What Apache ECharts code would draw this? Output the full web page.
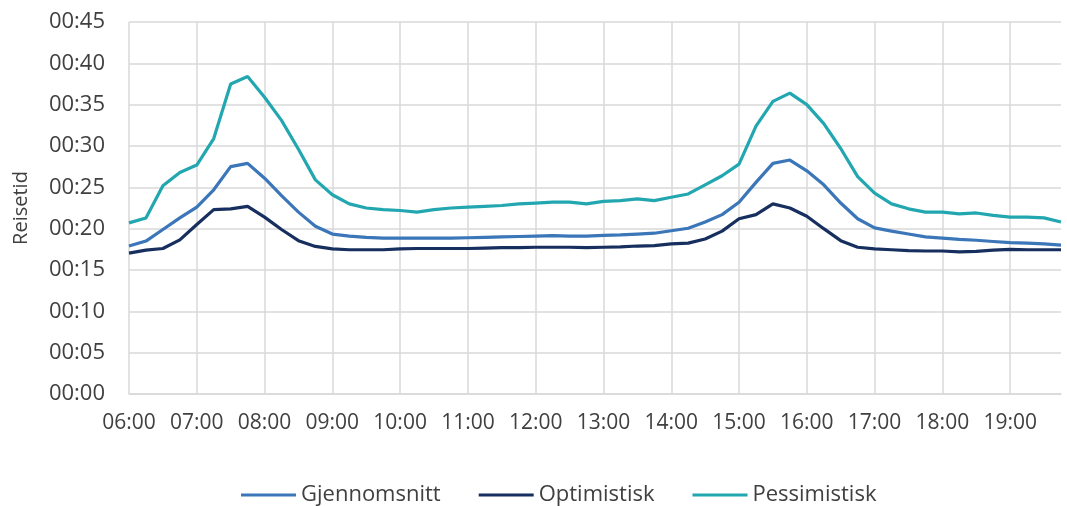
<!DOCTYPE html>
<html>
<head>
<meta charset="utf-8">
<script src="https://cdn.jsdelivr.net/npm/echarts@6/dist/echarts.min.js"></script>
<style>
  html, body { margin: 0; padding: 0; background: #ffffff; }
  #chart { width: 1067px; height: 506px; }
</style>
</head>
<body>
<div id="chart"></div>
<script>
// Travel time (minutes) per 15-minute departure slot, 06:00–19:45
const times = [
  '06:00','06:15','06:30','06:45','07:00','07:15','07:30','07:45',
  '08:00','08:15','08:30','08:45','09:00','09:15','09:30','09:45',
  '10:00','10:15','10:30','10:45','11:00','11:15','11:30','11:45',
  '12:00','12:15','12:30','12:45','13:00','13:15','13:30','13:45',
  '14:00','14:15','14:30','14:45','15:00','15:15','15:30','15:45',
  '16:00','16:15','16:30','16:45','17:00','17:15','17:30','17:45',
  '18:00','18:15','18:30','18:45','19:00','19:15','19:30','19:45'
];

const gjennomsnitt = [
  17.9, 18.5, 19.9, 21.3, 22.6, 24.7, 27.5, 27.9,
  26.1, 24.0, 22.0, 20.3, 19.35, 19.1, 18.95, 18.85,
  18.85, 18.85, 18.85, 18.85, 18.9, 18.95, 19.0, 19.05,
  19.1, 19.15, 19.1, 19.1, 19.2, 19.25, 19.35, 19.45,
  19.75, 20.05, 20.8, 21.7, 23.2, 25.6, 27.9, 28.3,
  27.0, 25.3, 23.1, 21.2, 20.1, 19.7, 19.35, 19.0,
  18.85, 18.7, 18.6, 18.45, 18.3, 18.25, 18.15, 18.0
];

const optimistisk = [
  17.05, 17.4, 17.6, 18.65, 20.5, 22.3, 22.4, 22.7,
  21.4, 19.9, 18.55, 17.85, 17.55, 17.45, 17.45, 17.45,
  17.55, 17.6, 17.6, 17.6, 17.6, 17.65, 17.7, 17.7,
  17.75, 17.75, 17.75, 17.7, 17.75, 17.8, 17.9, 17.95,
  18.15, 18.25, 18.75, 19.7, 21.2, 21.7, 23.0, 22.5,
  21.5, 20.0, 18.55, 17.75, 17.55, 17.45, 17.35, 17.3,
  17.3, 17.2, 17.25, 17.4, 17.5, 17.45, 17.45, 17.45
];

const pessimistisk = [
  20.7, 21.3, 25.2, 26.8, 27.7, 30.9, 37.5, 38.4,
  35.9, 33.1, 29.6, 25.9, 24.1, 23.0, 22.5, 22.3,
  22.2, 22.0, 22.3, 22.5, 22.6, 22.7, 22.8, 23.0,
  23.1, 23.2, 23.2, 23.0, 23.3, 23.4, 23.6, 23.4,
  23.8, 24.2, 25.3, 26.4, 27.8, 32.4, 35.4, 36.4,
  35.0, 32.7, 29.7, 26.3, 24.3, 23.0, 22.4, 22.0,
  22.0, 21.8, 21.9, 21.6, 21.4, 21.4, 21.3, 20.8
];

const seriesNames = ['Gjennomsnitt', 'Optimistisk', 'Pessimistisk'];
const seriesColors = ['#3a76b8', '#172f5e', '#22a7b0'];

const textColor = '#404040';
const gridColor = '#d9d9d9';
const fontFamily = '"Open Sans", "Noto Sans", sans-serif';

function pad2(n) { return (n < 10 ? '0' : '') + n; }

const chart = echarts.init(document.getElementById('chart'), null, { renderer: 'canvas' });

const seriesData = [gjennomsnitt, optimistisk, pessimistisk];

chart.setOption({
  animation: false,
  backgroundColor: '#ffffff',
  textStyle: { fontFamily: fontFamily },
  grid: { left: 129, right: 6, top: 22, bottom: 112 },
  legend: {
    data: seriesNames,
    bottom: 0,
    padding: 0,
    left: 241,
    icon: 'rect',
    itemWidth: 55,
    itemHeight: 3,
    itemGap: 38,
    textStyle: { color: textColor, fontSize: 22, fontFamily: fontFamily }
  },
  xAxis: {
    type: 'category',
    data: times,
    boundaryGap: false,
    axisLine: { show: true, lineStyle: { color: gridColor, width: 1.5 } },
    axisTick: { show: false },
    axisLabel: {
      interval: 3,
      color: textColor,
      fontSize: 21,
      margin: 19,
      fontFamily: fontFamily
    },
    splitLine: {
      show: true,
      interval: 3,
      lineStyle: { color: gridColor, width: 1.5 }
    }
  },
  yAxis: {
    type: 'value',
    min: 0,
    max: 45,
    interval: 5,
    name: 'Reisetid',
    nameLocation: 'middle',
    nameGap: 98,
    nameTextStyle: { color: textColor, fontSize: 20, fontFamily: fontFamily },
    axisLine: { show: false },
    axisTick: { show: false },
    axisLabel: {
      color: textColor,
      fontSize: 22,
      margin: 24,
      fontFamily: fontFamily,
      formatter: function (v) { return '00:' + pad2(v); }
    },
    splitLine: { show: true, lineStyle: { color: gridColor, width: 1.5 } }
  },
  series: seriesNames.map(function (name, i) {
    return {
      name: name,
      type: 'line',
      data: seriesData[i],
      symbol: 'none',
      smooth: false,
      lineStyle: { color: seriesColors[i], width: 3.2 },
      itemStyle: { color: seriesColors[i] },
      z: 3 + i
    };
  })
});
</script>
</body>
</html>
